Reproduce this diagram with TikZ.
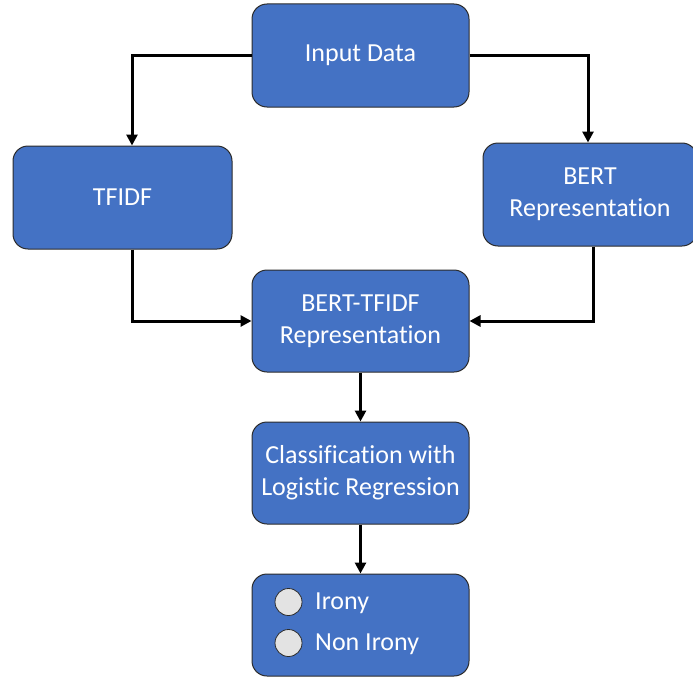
\documentclass[tikz,border=0pt]{standalone}
\usepackage{fontspec}
\setmainfont[Ligatures=NoCommon]{Carlito}
\usetikzlibrary{arrows.meta}
\definecolor{boxblue}{HTML}{4472C4}
\definecolor{boxedge}{HTML}{2B2B2B}
\definecolor{dotgray}{HTML}{E3E3E3}
\begin{document}
\begin{tikzpicture}[x=1pt,y=-1pt,
  box/.style={draw=boxedge,line width=1pt,fill=boxblue,rounded corners=15pt,
    text=white,font=\fontsize{26}{32}\selectfont,align=center,inner sep=0pt},
  arr/.style={draw=black,line width=3pt,-{Triangle[length=11pt,width=11pt]}},
  dot/.style={circle,draw=boxedge,line width=0.8pt,fill=dotgray,minimum size=27pt,inner sep=0pt},
  lab/.style={text=white,font=\fontsize{26}{32}\selectfont,anchor=west,inner sep=0pt}]
\useasboundingbox (0,0) rectangle (693,677);
\clip (0,0) rectangle (693,677);
\node[box,minimum width=217pt,minimum height=103pt] (in) at (360.5,55.5) {Input Data};
\node[box,minimum width=219pt,minimum height=103pt] (tf) at (122.5,197.5) {TFIDF};
\node[box,minimum width=214pt,minimum height=103pt] (bert) at (590,194.5) {BERT\\Representation};
\node[box,minimum width=217pt,minimum height=102pt] (bt) at (360.5,321) {BERT-TFIDF\\Representation};
\node[box,minimum width=217pt,minimum height=102pt] (cl) at (360.5,473) {Classification with\\Logistic Regression};
\node[box,minimum width=217pt,minimum height=102pt] (out) at (360.5,625) {};
\node[dot] (d1) at (288.5,602) {};
\node[dot] (d2) at (288.5,643) {};
\node[lab] (l1) at (315,603) {Irony};
\node[lab] (l2) at (315,644) {Non Irony};
\draw[arr] (in.west) -| ([xshift=9.5pt]tf.north);
\draw[arr] (in.east) -| ([xshift=-2pt]bert.north);
\draw[arr] ([xshift=9.5pt]tf.south) |- (bt.west);
\draw[arr] ([xshift=3pt]bert.south) |- (bt.east);
\draw[arr] (bt.south) -- (cl.north);
\draw[arr] (cl.south) -- (out.north);
\end{tikzpicture}
\end{document}
